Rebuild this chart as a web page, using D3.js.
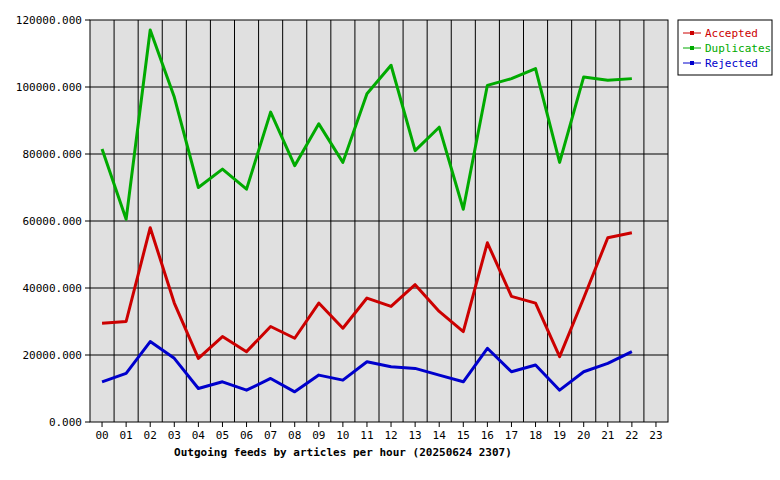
<!DOCTYPE html>
<html><head><meta charset="utf-8">
<script src="https://cdn.jsdelivr.net/npm/d3@7"></script>
<style>body{margin:0;background:#fff}text{font-family:"DejaVu Sans Mono",monospace}</style>
</head><body><svg id="c" width="780" height="480"></svg>
<script>
var hours = d3.range(24).map(h => (h < 10 ? "0" : "") + h)
var accepted = [29500,30000,58000,35500,19000,25500,21000,28500,25000,35500,28000,37000,34500,41000,33000,27000,53500,37500,35500,19500,37000,55000,56500]
var duplicates = [81500,60500,117000,97000,70000,75500,69500,92500,76500,89000,77500,98000,106500,81000,88000,63500,100500,102500,105500,77500,103000,102000,102500]
var rejected = [12000,14500,24000,19000,10000,12000,9500,13000,9000,14000,12500,18000,16500,16000,14000,12000,22000,15000,17000,9500,15000,17500,21000]
var yTicks = [0,20000,40000,60000,80000,100000,120000]

var series = [
  {name: "Accepted", color: "#cc0000", values: accepted},
  {name: "Duplicates", color: "#00aa00", values: duplicates},
  {name: "Rejected", color: "#0000cc", values: rejected}
]

var svg = d3.select("#c")
var L = 90, R = 668, T = 20, B = 422
var x = d3.scaleBand().domain(hours).range([L, R])
var y = d3.scaleLinear().domain([0, 120000]).range([B, T])

svg.append("rect").attr("x", L).attr("y", T).attr("width", R - L).attr("height", B - T)
  .attr("fill", "#e0e0e0").attr("stroke", "#000")

svg.append("g").selectAll("line").data(hours.slice(1)).join("line")
  .attr("x1", d => x(d)).attr("x2", d => x(d)).attr("y1", T).attr("y2", B)
  .attr("stroke", "#000")
svg.append("g").selectAll("line").data(yTicks.slice(1, -1)).join("line")
  .attr("x1", L).attr("x2", R).attr("y1", d => y(d)).attr("y2", d => y(d))
  .attr("stroke", "#000")

svg.append("g").selectAll("text").data(yTicks).join("text")
  .attr("x", L - 8).attr("y", d => y(d) + 4).attr("text-anchor", "end")
  .attr("font-size", 11).text(d => d + ".000")
svg.append("g").selectAll("line").data(yTicks).join("line")
  .attr("x1", L - 5).attr("x2", L).attr("y1", d => y(d)).attr("y2", d => y(d)).attr("stroke", "#000")

svg.append("g").selectAll("text").data(hours).join("text")
  .attr("x", d => x(d) + x.bandwidth() / 2).attr("y", B + 17).attr("text-anchor", "middle")
  .attr("font-size", 11).text(d => d)
svg.append("g").selectAll("line").data(hours).join("line")
  .attr("x1", d => x(d) + x.bandwidth() / 2).attr("x2", d => x(d) + x.bandwidth() / 2)
  .attr("y1", B).attr("y2", B + 5).attr("stroke", "#000")

svg.append("text").attr("x", 343).attr("y", 456).attr("text-anchor", "middle")
  .attr("font-size", 11).attr("font-weight", "bold")
  .text("Outgoing feeds by articles per hour (20250624 2307)")

var line = d3.line().x((d, i) => x(hours[i]) + x.bandwidth() / 2).y(d => y(d))
svg.append("g").selectAll("path").data(series).join("path")
  .attr("d", d => line(d.values)).attr("fill", "none")
  .attr("stroke", d => d.color).attr("stroke-width", 3).attr("stroke-linejoin", "round")

var lg = svg.append("g")
lg.append("rect").attr("x", 678).attr("y", 20).attr("width", 94).attr("height", 55)
  .attr("fill", "#fff").attr("stroke", "#000")
var it = lg.selectAll("g").data(series).join("g")
  .attr("transform", (d, i) => `translate(683,${33 + i * 15})`)
it.append("line").attr("x1", 0).attr("x2", 18).attr("stroke", d => d.color)
it.append("rect").attr("x", 7).attr("y", -2).attr("width", 4).attr("height", 4).attr("fill", d => d.color)
it.append("text").attr("x", 22).attr("y", 4).attr("font-size", 11).attr("fill", d => d.color).text(d => d.name)
</script></body></html>
